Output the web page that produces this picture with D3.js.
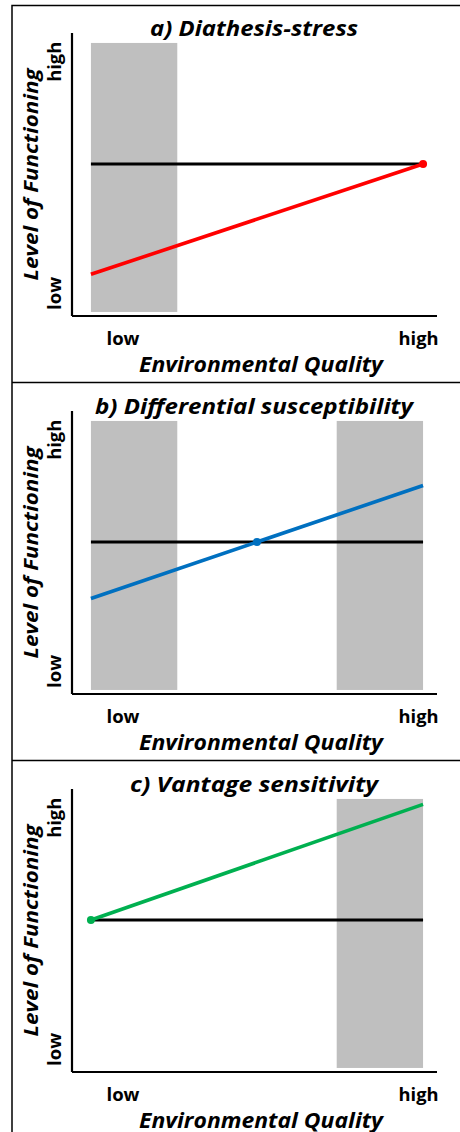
<!DOCTYPE html>
<html>
<head>
<meta charset="utf-8">
<script src="https://cdn.jsdelivr.net/npm/d3@7"></script>
<style>
    body { margin: 0; background: #fff; }
    text { font-family: "Open Sans", "Lato", sans-serif; fill: #000; }
</style>
</head>
<body>
<div id="chart"></div>
<script>
const panelTitles = ["a) Diathesis-stress", "b) Differential susceptibility", "c) Vantage sensitivity"];
const envQuality = [0, 1];
const controlLevel = [0.55, 0.55];
const redLevel = [0.14, 0.55];
const blueLevel = [0.34, 0.76];
const greenLevel = [0.55, 0.98];
const shadedRanges = [[[0, 0.26]], [[0, 0.26], [0.74, 1]], [[0.74, 1]]];
const dotPoints = [[1, 0.55], [0.5, 0.55], [0, 0.55]];
const xTickLabels = ["low", "high"];
const xTickValues = [0.095, 0.985];
const yTickLabels = ["low", "high"];
const yTickValues = [0.069, 0.93];
const xAxisTitle = "Environmental Quality";
const yAxisTitle = "Level of Functioning";

const seriesLevels = [redLevel, blueLevel, greenLevel];
const seriesColors = ["#ff0000", "#0070c0", "#00b050"];

// the source figure is a bit wider than any installed font, so stretch text to its widths
const titleWidths = [208, 318, 248];
const tickWidths = {low: 33, high: 40};

const W = 460, H = 1132, panelH = 378;

const svg = d3.select("#chart").append("svg")
    .attr("width", W)
    .attr("height", H);

//outer frame + separators
svg.append("path")
    .attr("d", `M12,${H + 2}V5.5H${W + 2}`)
    .attr("fill", "none")
    .attr("stroke", "#000")
    .attr("stroke-width", 1.5);

[1, 2].forEach(i => {
    svg.append("line")
        .attr("x1", 12).attr("x2", W)
        .attr("y1", 5.5 + i * panelH - 1).attr("y2", 5.5 + i * panelH - 1)
        .attr("stroke", "#000")
        .attr("stroke-width", 1.5);
});

const x = d3.scaleLinear().domain([-0.057, 1.042]).range([72, 437]);
const y = d3.scaleLinear().domain([-0.015, 1.037]).range([316, 33]);

const line = d3.line()
    .x((d, i) => x(envQuality[i]))
    .y(d => y(d));

panelTitles.forEach((title, p) => {
    const g = svg.append("g")
        .attr("transform", `translate(0,${p * panelH})`);

    // shaded environments
    g.selectAll(".shade")
        .data(shadedRanges[p])
        .enter()
        .append("rect")
        .attr("x", d => x(d[0]))
        .attr("width", d => x(d[1]) - x(d[0]))
        .attr("y", y(1))
        .attr("height", y(0) - y(1))
        .attr("fill", "#bfbfbf");

    // axes, no ticks
    const xAxis = g.append("g")
        .attr("transform", `translate(0,${y.range()[0]})`)
        .call(d3.axisBottom(x).tickValues(xTickValues).tickSize(0).tickPadding(10)
            .tickFormat((d, i) => xTickLabels[i]));
    xAxis.select(".domain").attr("stroke-width", 2.2).attr("d", `M${x.range()[0]},0H${x.range()[1]}`);
    xAxis.selectAll("text")
        .attr("dy", "1.05em")
        .attr("textLength", (d, i) => tickWidths[xTickLabels[i]])
        .attr("lengthAdjust", "spacingAndGlyphs")
        .style("font-size", "18px")
        .style("font-weight", "bold");

    const yAxis = g.append("g")
        .attr("transform", `translate(${x.range()[0]},0)`)
        .call(d3.axisLeft(y).tickValues(yTickValues).tickSize(0).tickFormat(() => ""));
    yAxis.select(".domain").attr("stroke-width", 2.2).attr("d", `M0,${y.range()[0]}V${y.range()[1]}`);

    g.selectAll(".ytick")
        .data(yTickValues)
        .enter()
        .append("text")
        .attr("transform", d => `translate(61,${y(d)}) rotate(-90)`)
        .attr("text-anchor", "middle")
        .attr("textLength", (d, i) => tickWidths[yTickLabels[i]])
        .attr("lengthAdjust", "spacingAndGlyphs")
        .style("font-size", "18px")
        .style("font-weight", "bold")
        .text((d, i) => yTickLabels[i]);

    // titles
    g.append("text")
        .attr("x", 254)
        .attr("y", 36)
        .attr("text-anchor", "middle")
        .attr("textLength", titleWidths[p])
        .attr("lengthAdjust", "spacingAndGlyphs")
        .style("font-size", "21px")
        .style("font-weight", "bold")
        .style("font-style", "italic")
        .text(title);

    g.append("text")
        .attr("x", 261)
        .attr("y", 372)
        .attr("text-anchor", "middle")
        .attr("textLength", 244)
        .attr("lengthAdjust", "spacingAndGlyphs")
        .style("font-size", "21px")
        .style("font-weight", "bold")
        .style("font-style", "italic")
        .text(xAxisTitle);

    g.append("text")
        .attr("transform", `translate(38,${(y.range()[0] + y.range()[1]) / 2}) rotate(-90)`)
        .attr("text-anchor", "middle")
        .attr("textLength", 212)
        .attr("lengthAdjust", "spacingAndGlyphs")
        .style("font-size", "20px")
        .style("font-weight", "bold")
        .style("font-style", "italic")
        .text(yAxisTitle);

    // control (black) and susceptible (coloured) lines
    g.append("path")
        .datum(controlLevel)
        .attr("d", line)
        .attr("fill", "none")
        .attr("stroke", "#000")
        .attr("stroke-width", 3.2);

    g.append("path")
        .datum(seriesLevels[p])
        .attr("d", line)
        .attr("fill", "none")
        .attr("stroke", seriesColors[p])
        .attr("stroke-width", 3.6);

    g.append("circle")
        .attr("cx", x(dotPoints[p][0]))
        .attr("cy", y(dotPoints[p][1]))
        .attr("r", 4)
        .attr("fill", seriesColors[p]);
});
</script>
</body>
</html>
